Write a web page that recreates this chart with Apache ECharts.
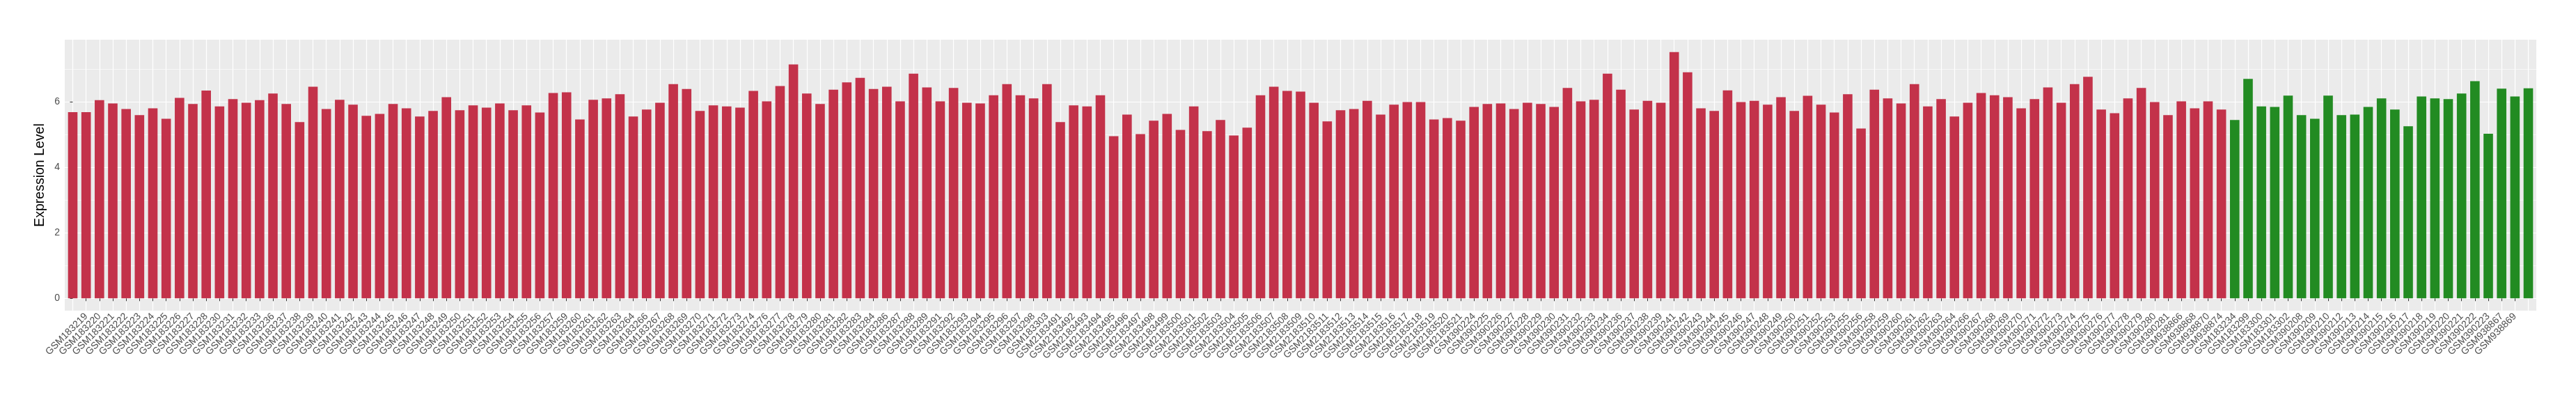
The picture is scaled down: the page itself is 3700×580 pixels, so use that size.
<!DOCTYPE html>
<html><head><meta charset="utf-8">
<script src="https://cdn.jsdelivr.net/npm/echarts@6/dist/echarts.min.js"></script>
<style>html,body{margin:0;padding:0;background:#fff}#c{width:3700px;height:580px}</style>
</head><body><div id="c"></div>
<script>
// ---------------- DATA ----------------
const groupASamples = [
'GSM183218','GSM183219','GSM183220','GSM183221','GSM183222','GSM183223','GSM183224','GSM183225','GSM183226','GSM183227',
'GSM183228','GSM183230','GSM183231','GSM183232','GSM183233','GSM183236','GSM183237','GSM183238','GSM183239','GSM183240',
'GSM183241','GSM183242','GSM183243','GSM183244','GSM183245','GSM183246','GSM183247','GSM183248','GSM183249','GSM183250',
'GSM183251','GSM183252','GSM183253','GSM183254','GSM183255','GSM183256','GSM183257','GSM183259','GSM183260','GSM183261',
'GSM183262','GSM183263','GSM183264','GSM183266','GSM183267','GSM183268','GSM183269','GSM183270','GSM183271','GSM183272',
'GSM183273','GSM183274','GSM183276','GSM183277','GSM183278','GSM183279','GSM183280','GSM183281','GSM183282','GSM183283',
'GSM183284','GSM183286','GSM183287','GSM183288','GSM183289','GSM183291','GSM183292','GSM183293','GSM183294','GSM183295',
'GSM183296','GSM183297','GSM183298','GSM183303','GSM2183491','GSM2183492','GSM2183493','GSM2183494','GSM2183495','GSM2183496',
'GSM2183497','GSM2183498','GSM2183499','GSM2183500','GSM2183501','GSM2183502','GSM2183503','GSM2183504','GSM2183505','GSM2183506',
'GSM2183507','GSM2183508','GSM2183509','GSM2183510','GSM2183511','GSM2183512','GSM2183513','GSM2183514','GSM2183515','GSM2183516',
'GSM2183517','GSM2183518','GSM2183519','GSM2183520','GSM2183521','GSM390224','GSM390225','GSM390226','GSM390227','GSM390228',
'GSM390229','GSM390230','GSM390231','GSM390232','GSM390233','GSM390234','GSM390236','GSM390237','GSM390238','GSM390239',
'GSM390241','GSM390242','GSM390243','GSM390244','GSM390245','GSM390246','GSM390247','GSM390248','GSM390249','GSM390250',
'GSM390251','GSM390252','GSM390253','GSM390255','GSM390256','GSM390258','GSM390259','GSM390260','GSM390261','GSM390262',
'GSM390263','GSM390264','GSM390266','GSM390267','GSM390268','GSM390269','GSM390270','GSM390271','GSM390272','GSM390273',
'GSM390274','GSM390275','GSM390276','GSM390277','GSM390278','GSM390279','GSM390280','GSM390281','GSM938866','GSM938868',
'GSM938870','GSM938874'
];
const groupAValues = [
5.69,5.69,6.06,5.96,5.79,5.60,5.81,5.49,6.13,5.94,
6.35,5.87,6.09,5.98,6.06,6.26,5.94,5.39,6.47,5.79,
6.07,5.92,5.58,5.64,5.94,5.81,5.56,5.73,6.15,5.75,
5.90,5.83,5.96,5.75,5.90,5.68,6.28,6.30,5.47,6.07,
6.11,6.24,5.56,5.77,5.98,6.55,6.40,5.73,5.90,5.87,
5.83,6.34,6.02,6.49,7.15,6.26,5.94,6.38,6.60,6.74,
6.40,6.47,6.02,6.87,6.45,6.02,6.43,5.98,5.96,6.21,
6.55,6.21,6.11,6.55,5.39,5.90,5.87,6.21,4.96,5.62,
5.02,5.43,5.64,5.15,5.87,5.11,5.45,4.98,5.22,6.21,
6.47,6.34,6.32,5.98,5.41,5.75,5.79,6.04,5.62,5.92,
6.00,6.00,5.47,5.51,5.43,5.85,5.94,5.96,5.79,5.98,
5.94,5.85,6.43,6.02,6.07,6.87,6.38,5.77,6.04,5.98,
7.53,6.91,5.81,5.73,6.36,6.00,6.04,5.92,6.15,5.73,
6.19,5.92,5.68,6.24,5.19,6.38,6.11,5.96,6.55,5.87,
6.09,5.56,5.98,6.28,6.21,6.15,5.81,6.09,6.45,5.98,
6.55,6.77,5.77,5.66,6.11,6.43,6.00,5.60,6.02,5.81,
6.02,5.77
];
const groupBSamples = [
'GSM183234','GSM183299','GSM183300','GSM183301','GSM183302','GSM390208','GSM390209','GSM390210','GSM390212','GSM390213',
'GSM390214','GSM390215','GSM390216','GSM390217','GSM390218','GSM390219','GSM390220','GSM390221','GSM390222','GSM390223',
'GSM938867','GSM938869','GSM938871'
];
const groupBValues = [
5.45,6.71,5.87,5.85,6.20,5.60,5.49,6.20,5.60,5.62,
5.85,6.11,5.77,5.26,6.17,6.11,6.09,6.26,6.64,5.03,
6.41,6.17,6.42
];
const yMajorTicks = [0, 2, 4, 6];
const yMinorTicks = [1, 3, 5, 7];
const yTitle = 'Expression Level';

// ---------------- BUILD ----------------
const categories = groupASamples.concat(groupBSamples);
const n = categories.length;
const allValues = groupAValues.concat(groupBValues);
const vmax = Math.max.apply(null, allValues);
const yMin = -0.05 * vmax, yMax = 1.05 * vmax;
const xMin = -0.6, xMax = n - 1 + 0.6;
const W = 3700;
const gridLeft = 93, gridRight = 57, gridTop = 57, gridBottom = 134;
const band = (W - gridLeft - gridRight) / (xMax - xMin);
const barW = band * 0.71;
const xTicks = categories.map(function (_, i) { return i; });
const dataA = groupAValues.map(function (v, i) { return [i, v]; });
const dataB = groupBValues.map(function (v, i) { return [groupASamples.length + i, v]; });

const FONT = '"Liberation Sans", Arial, sans-serif';
const chart = echarts.init(document.getElementById('c'), null, {renderer: 'canvas'});
chart.setOption({
  animation: false,
  backgroundColor: '#ffffff',
  grid: {left: gridLeft, right: gridRight, top: gridTop, bottom: gridBottom,
         show: true, backgroundColor: '#EBEBEB', borderWidth: 0, containLabel: false},
  xAxis: {
    type: 'value', min: xMin, max: xMax,
    axisLine: {show: false},
    axisTick: {show: true, length: 4, customValues: xTicks, lineStyle: {color: '#333333', width: 1}},
    axisLabel: {customValues: xTicks, rotate: 45, margin: 6, fontSize: 14, color: '#4D4D4D', fontFamily: FONT,
                formatter: function (v) { return categories[Math.round(v)] || ''; }},
    splitLine: {show: true, lineStyle: {color: '#FFFFFF', width: 1.2}}
  },
  yAxis: [{
    type: 'value', min: yMin, max: yMax,
    name: yTitle, nameLocation: 'middle', nameRotate: 90, nameGap: 16,
    nameTextStyle: {fontSize: 19.5, color: '#000000', fontFamily: FONT},
    axisLine: {show: false},
    axisTick: {show: true, length: 4, customValues: yMajorTicks, lineStyle: {color: '#333333', width: 1}},
    axisLabel: {customValues: yMajorTicks, margin: 7, fontSize: 14, color: '#4D4D4D', fontFamily: FONT},
    splitLine: {show: true, lineStyle: {color: '#FFFFFF', width: 1.2}}
  }, {
    type: 'value', min: yMin, max: yMax, position: 'left',
    axisLine: {show: false},
    axisTick: {show: false, customValues: yMinorTicks},
    axisLabel: {show: false, customValues: yMinorTicks},
    splitLine: {show: true, lineStyle: {color: '#FFFFFF', width: 0.6}}
  }],
  series: [{
    type: 'bar', data: dataA, barWidth: barW, barGap: '-100%', yAxisIndex: 0,
    itemStyle: {color: '#C3324A'}, z: 3
  }, {
    type: 'bar', data: dataB, barWidth: barW, barGap: '-100%', yAxisIndex: 0,
    itemStyle: {color: '#228B22'}, z: 3
  }]
});
</script>
</body></html>
